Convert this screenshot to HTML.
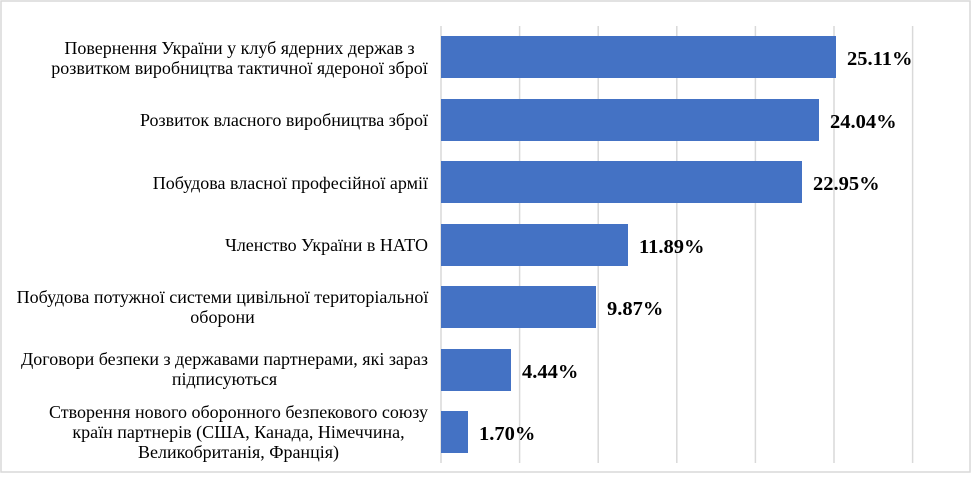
<!DOCTYPE html>
<html><head><meta charset="utf-8"><style>
body{margin:0;background:#fff;}
</style></head><body>
<svg width="972" height="474" xmlns="http://www.w3.org/2000/svg" font-family="Liberation Serif, serif">
<rect x="1" y="1" width="969" height="471" fill="#fff" stroke="#d9d9d9" stroke-width="1.5"/>
<g stroke="#d9d9d9" stroke-width="1.5">
<line x1="441" y1="26" x2="441" y2="463"/>
<line x1="519.6" y1="26" x2="519.6" y2="463"/>
<line x1="598.2" y1="26" x2="598.2" y2="463"/>
<line x1="676.8" y1="26" x2="676.8" y2="463"/>
<line x1="755.4" y1="26" x2="755.4" y2="463"/>
<line x1="834" y1="26" x2="834" y2="463"/>
<line x1="912.6" y1="26" x2="912.6" y2="463"/>
</g>
<g fill="#4472c4">
<rect x="441" y="36" width="395" height="42"/>
<rect x="441" y="99" width="378" height="42"/>
<rect x="441" y="161" width="361" height="42"/>
<rect x="441" y="224" width="187" height="42"/>
<rect x="441" y="286" width="155" height="42"/>
<rect x="441" y="349" width="70" height="42"/>
<rect x="441" y="411" width="27" height="42"/>
</g>
<g font-weight="bold" font-size="20.5" fill="#000">
<text x="847" y="65">25.11%</text>
<text x="830" y="128">24.04%</text>
<text x="813" y="190">22.95%</text>
<text x="639" y="253">11.89%</text>
<text x="607" y="315">9.87%</text>
<text x="522" y="378">4.44%</text>
<text x="479" y="440">1.70%</text>
</g>
<g font-size="18" fill="#000" text-anchor="middle">
<text x="239.5" y="54">Повернення України у клуб ядерних держав з</text>
<text x="239.5" y="74">розвитком виробництва тактичної ядероної зброї</text>
<text x="428" y="126" text-anchor="end">Розвиток власного виробництва зброї</text>
<text x="428" y="189" text-anchor="end">Побудова власної професійної армії</text>
<text x="428" y="251" text-anchor="end">Членство України в НАТО</text>
<text x="222.5" y="303">Побудова потужної системи цивільної територіальної</text>
<text x="222.5" y="323">оборони</text>
<text x="224.5" y="365">Договори безпеки з державами партнерами, які зараз</text>
<text x="224.5" y="385">підписуються</text>
<text x="238.5" y="418">Створення нового оборонного безпекового союзу</text>
<text x="238.5" y="438">країн партнерів (США, Канада, Німеччина,</text>
<text x="238.5" y="458">Великобританія, Франція)</text>
</g>
</svg>
</body></html>
